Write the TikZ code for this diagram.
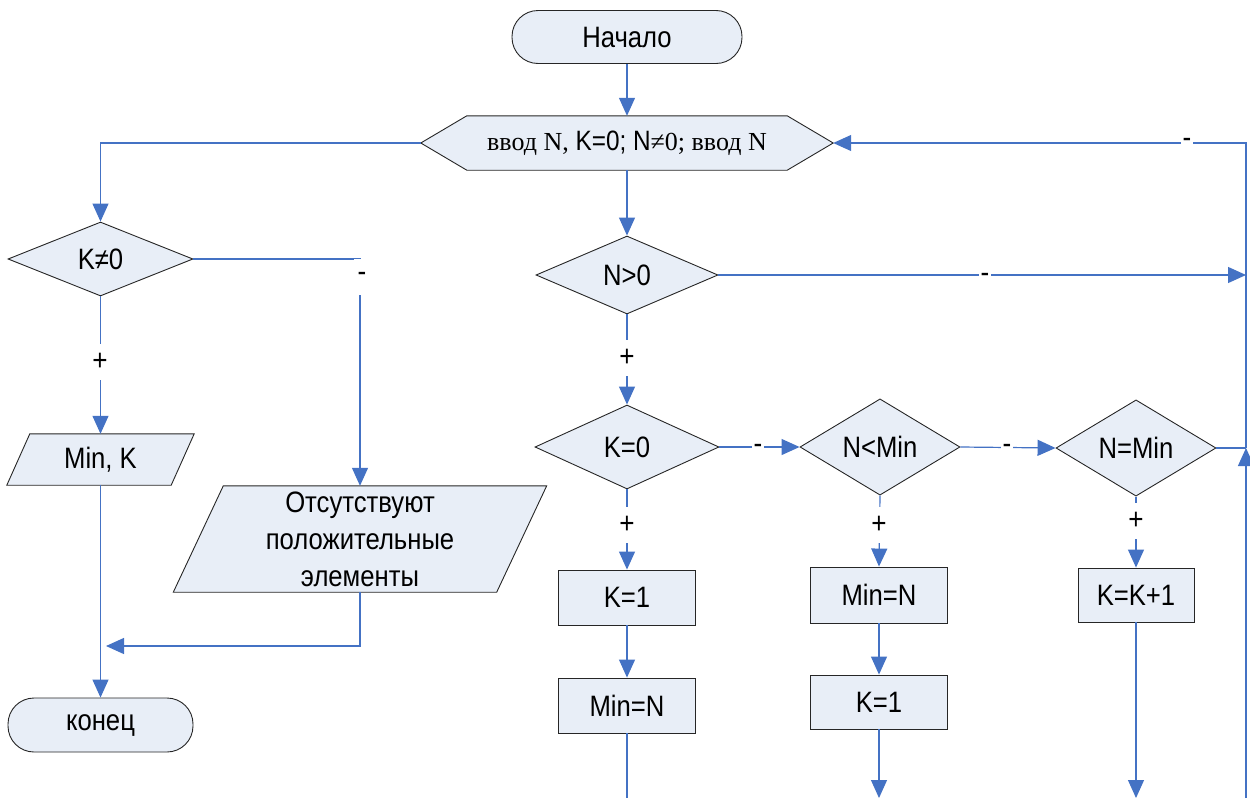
\documentclass[tikz,border=0pt]{standalone}
\usepackage{fontspec}
\setmainfont[FakeStretch=0.87]{Liberation Sans}
\newfontfamily\serif{Liberation Serif}
\usetikzlibrary{arrows.meta,shapes.geometric}

\definecolor{flow}{HTML}{4472C4}
\definecolor{boxfill}{HTML}{E8EEF7}

\begin{document}
\begin{tikzpicture}[x=1pt,y=-1pt,
  txt/.style={font=\fontsize{29.5}{37}\selectfont, align=center, inner sep=0pt},
  base/.style={txt, draw=black!85, fill=boxfill, line width=0.9pt},
  term/.style={base, rectangle, rounded corners=26pt},
  proc/.style={base, rectangle},
  cond/.style={base, diamond},
  frame/.style={inner sep=0pt},
  outline/.style={draw=black!85, fill=boxfill, line width=0.9pt, line join=miter},
  flowline/.style={draw=flow, line width=1.2pt},
  arr/.style={flowline, -{Triangle[length=18pt,width=16pt]}},
  lblv/.style={fill=white, font=\fontsize{30}{30}\selectfont, inner sep=0pt, minimum width=16pt, minimum height=36pt},
  lblh/.style={fill=white, font=\fontsize{30}{30}\selectfont, inner sep=0pt, minimum width=12pt, minimum height=6pt}
]
\useasboundingbox (0,0) rectangle (1250,798);

% --- blocks ---
\node[term, minimum width=230pt, minimum height=53pt] (start) at (627,37) {Начало};

% input hexagon
\node[frame, minimum width=412pt, minimum height=54pt] (inp) at (627,143) {};
\path[outline] (inp.west) -- ([xshift=46pt]inp.north west) -- ([xshift=-46pt]inp.north east)
  -- (inp.east) -- ([xshift=-46pt]inp.south east) -- ([xshift=46pt]inp.south west) -- cycle;
\node[txt, font=\fontsize{28}{30}\selectfont] at (inp.center)
  {{\serif\fontsize{26}{30}\selectfont ввод N,} K=0; N{\serif\fontsize{26}{30}\selectfont ≠0; ввод N}};

\node[cond, minimum width=185pt, minimum height=74pt] (knz) at (100.5,259) {K≠0};
\node[cond, minimum width=182pt, minimum height=78pt] (npos) at (627,275) {N>0};
\node[cond, minimum width=184pt, minimum height=84pt] (kz) at (627,447) {K=0};
\node[cond, minimum width=160pt, minimum height=78pt] (nlt) at (880,447) {N<Min};
\node[cond, minimum width=160pt, minimum height=76pt] (neq) at (1136,448) {N=Min};

% output parallelograms
\node[frame, minimum width=187pt, minimum height=51pt] (out) at (100.5,459.5) {};
\path[outline] ([xshift=23pt]out.north west) -- (out.north east)
  -- ([xshift=-23pt]out.south east) -- (out.south west) -- cycle;
\node[txt] at (out.center) {Min, K};

\node[frame, minimum width=373pt, minimum height=106pt] (none) at (360,539) {};
\path[outline] ([xshift=50pt]none.north west) -- (none.north east)
  -- ([xshift=-50pt]none.south east) -- (none.south west) -- cycle;
\node[txt] at (none.center) {Отсутствуют\\положительные\\элементы};

\node[term, minimum width=185pt, minimum height=54pt] (stop) at (100.5,725) {конец};

\node[proc, minimum width=137pt, minimum height=55pt] (k1a) at (627,597.5) {K=1};
\node[proc, minimum width=137pt, minimum height=55pt] (mina) at (627,705.5) {Min=N};
\node[proc, minimum width=137pt, minimum height=56pt] (minb) at (879,595) {Min=N};
\node[proc, minimum width=137pt, minimum height=54pt] (k1b) at (879,702) {K=1};
\node[proc, minimum width=116pt, minimum height=54pt] (kinc) at (1136,595) {K=K+1};

% --- free ends and junctions ---
\coordinate (merge) at (100,646);
\coordinate (rpos) at (1246,275);
\coordinate (rjoin) at (1246,448);
\coordinate (rbot) at (1246,798);
\coordinate (bl) at (627,798);
\coordinate (bm) at (879,798);
\coordinate (br) at (1136,798);

% --- connectors ---
\draw[arr] (start.south) -- (inp.north);
\draw[arr] (inp.south) -- (npos.north);
\draw[arr] (inp.west) -| (knz.north);
\draw[arr] (knz.east) -| (none.north);
\draw[arr] (knz.south) -- (out.north);
\draw[arr] (out.south) -- (stop.north);
\draw[arr, shorten >=6pt] (none.south) |- (merge);
\draw[arr] (npos.east) -- (rpos);
\draw[arr] (npos.south) -- (kz.north);
\draw[arr] (kz.east) -- (nlt.west);
\draw[arr] (nlt.east) -- (neq.west);
\draw[flowline] (neq.east) -- (rjoin);
\draw[arr] (rbot) -- (rjoin);
\draw[arr] (rjoin) |- (inp.east);
\draw[arr] (kz.south) -- (k1a.north);
\draw[arr] (k1a.south) -- (mina.north);
\draw[flowline] (mina.south) -- (bl);
\draw[arr] (nlt.south) -- (minb.north);
\draw[arr] (minb.south) -- (k1b.north);
\draw[arr] (k1b.south) -- (bm);
\draw[arr] (neq.south) -- (kinc.north);
\draw[arr] (kinc.south) -- (br);

% --- branch labels ---
\node[lblv] at (362,277) {-};
\node[lblv] at (100,362) {+};
\node[lblv] at (627,358) {+};
\node[lblv] at (627,525) {+};
\node[lblv] at (879,525) {+};
\node[lblv] at (1136,521) {+};
\node[lblh] at (985,278) {-};
\node[lblh] at (1187,143) {-};
\node[lblh] at (758,449) {-};
\node[lblh] at (1007,449) {-};
\end{tikzpicture}
\end{document}
